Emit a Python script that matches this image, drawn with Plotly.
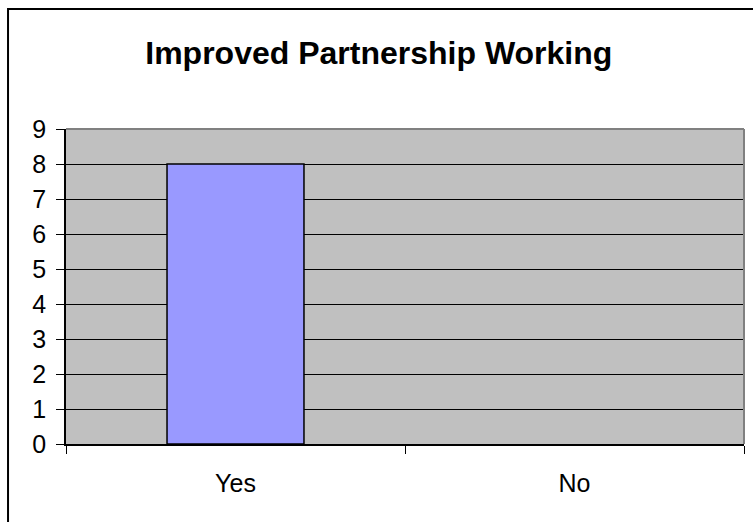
import plotly.graph_objects as go

# Survey responses
categories = ["Yes", "No"]
counts = [8, 0]
y_ticks = [0, 1, 2, 3, 4, 5, 6, 7, 8, 9]

FONT = "Arial, Liberation Sans, sans-serif"

# Outline only on bars that have height
outline_widths = [1.5 if c > 0 else 0 for c in counts]

fig = go.Figure(
    go.Bar(
        x=categories,
        y=counts,
        marker=dict(color="#9999FF", line=dict(color="#000000", width=outline_widths)),
        width=0.404,
    )
)

fig.update_layout(
    width=753,
    height=522,
    margin=dict(l=66, r=9, t=129, b=78),
    paper_bgcolor="#FFFFFF",
    plot_bgcolor="#C0C0C0",
    showlegend=False,
    title=dict(
        text="<b>Improved Partnership Working</b>",
        font=dict(family=FONT, size=32, color="#000000"),
        x=0.503,
        xanchor="center",
        xref="container",
        y=1 - 53 / 522,
        yanchor="middle",
        yref="container",
    ),
    font=dict(family=FONT, size=25, color="#000000"),
)

fig.update_xaxes(
    type="category",
    showgrid=False,
    showline=True,
    linecolor="#000000",
    linewidth=1.5,
    ticks="outside",
    tickson="boundaries",
    ticklen=8,
    tickcolor="#000000",
    tickwidth=1,
    tickfont=dict(family=FONT, size=25),
    ticklabelstandoff=16,
)

fig.update_yaxes(
    range=[0, 9],
    tickvals=y_ticks,
    showgrid=True,
    gridcolor="#000000",
    gridwidth=1,
    zeroline=False,
    showline=True,
    linecolor="#000000",
    linewidth=1.5,
    ticks="outside",
    ticklen=8,
    tickcolor="#000000",
    tickwidth=1,
    tickfont=dict(family=FONT, size=25),
    ticklabelstandoff=5,
)

# Gray top and right edges of the plotting area
fig.add_shape(type="line", xref="paper", yref="paper", x0=0, x1=1, y0=1, y1=1,
              line=dict(color="#808080", width=2))
fig.add_shape(type="line", xref="paper", yref="paper", x0=1, x1=1, y0=0, y1=1,
              line=dict(color="#808080", width=2))

# Chart frame: left and top edges
fig.add_shape(type="path", xref="paper", yref="paper",
              path="M -0.0855,-0.30 L -0.0855,1.381 L 1.05,1.381",
              line=dict(color="#000000", width=2))

fig.write_html("out.html")
